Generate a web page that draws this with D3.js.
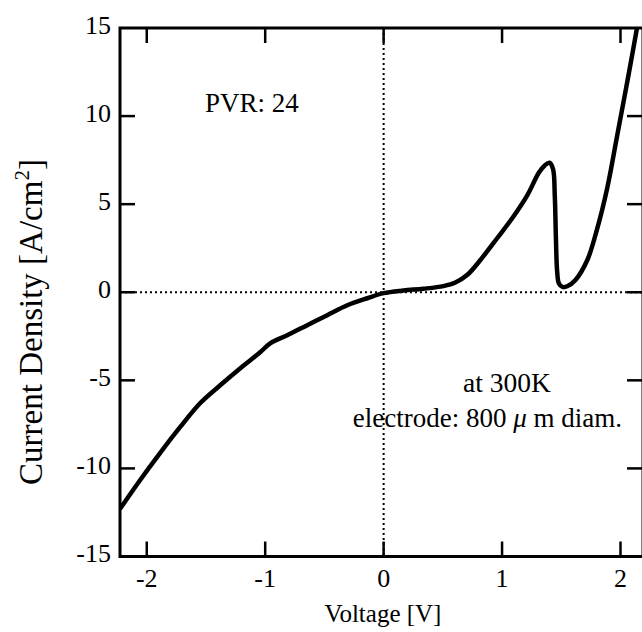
<!DOCTYPE html>
<html>
<head>
<meta charset="utf-8">
<script src="https://cdn.jsdelivr.net/npm/d3@7"></script>
<style>
  body { margin: 0; background: #fff; }
  text { font-family: "Liberation Serif", "Times New Roman", serif; fill: #000; }
</style>
</head>
<body>
<script>
// I-V curve
var voltage = [-2.226, -2.057, -1.888, -1.719, -1.55, -1.38, -1.21, -1.043, -0.958, -0.814,
  -0.645, -0.476, -0.307, -0.138, 0, 0.167, 0.336, 0.505, 0.606, 0.707,
  0.817, 0.96, 1.096, 1.215, 1.31, 1.36, 1.40, 1.43, 1.445, 1.455,
  1.465, 1.48, 1.51, 1.55, 1.62, 1.72, 1.80, 1.89, 1.97, 2.06, 2.15]
var current = [-12.3, -10.67, -9.13, -7.66, -6.3, -5.28, -4.31, -3.41, -2.9, -2.44,
  -1.87, -1.3, -0.74, -0.34, -0.05, 0.1, 0.2, 0.35, 0.55, 0.99,
  1.83, 3.08, 4.3, 5.53, 6.78, 7.2, 7.35, 7.0, 5.5, 3.0,
  1.2, 0.5, 0.3, 0.34, 0.7, 1.83, 3.53, 5.98, 8.82, 12.05, 15.4]

var xTicks = [-2, -1, 0, 1, 2]
var yTicks = [-15, -10, -5, 0, 5, 10, 15]
var yInner = [-10, -5, 0, 5, 10]

var width = 642, height = 632
var pLeft = 120, pRight = 643, pTop = 28, pBottom = 556.5

var svg = d3.select('body').append('svg')
  .attr('width', width)
  .attr('height', height)

var x = d3.scaleLinear().domain([-2.226, 2.19]).range([pLeft, pRight])
var y = d3.scaleLinear().domain([-15, 15]).range([pBottom, pTop])

svg.append('clipPath').attr('id', 'plot')
  .append('rect')
  .attr('x', pLeft).attr('y', pTop)
  .attr('width', pRight - pLeft).attr('height', pBottom - pTop)

// dotted zero lines
svg.append('line')
  .attr('x1', pLeft).attr('x2', pRight)
  .attr('y1', y(0)).attr('y2', y(0))
  .attr('stroke', '#000').attr('stroke-width', 2)
  .attr('stroke-dasharray', '2,3')
svg.append('line')
  .attr('x1', x(0)).attr('x2', x(0))
  .attr('y1', pTop).attr('y2', pBottom)
  .attr('stroke', '#000').attr('stroke-width', 2)
  .attr('stroke-dasharray', '2,3')

// the curve
var pts = voltage.map(function (v, i) { return [v, current[i]] })
var line = d3.line()
  .x(function (d) { return x(d[0]) })
  .y(function (d) { return y(d[1]) })
  .curve(d3.curveCatmullRom.alpha(0.5))

svg.append('path')
  .datum(pts)
  .attr('clip-path', 'url(#plot)')
  .attr('d', line)
  .attr('fill', 'none')
  .attr('stroke', '#000')
  .attr('stroke-width', 4.5)
  .attr('stroke-linejoin', 'round')

// frame
svg.append('rect')
  .attr('x', pLeft).attr('y', pTop)
  .attr('width', pRight - pLeft).attr('height', pBottom - pTop)
  .attr('fill', 'none').attr('stroke', '#000').attr('stroke-width', 3)

// inward ticks, all four sides
var tl = 15
var tickG = svg.append('g').attr('stroke', '#000').attr('stroke-width', 2.5)
xTicks.forEach(function (t) {
  tickG.append('line').attr('x1', x(t)).attr('x2', x(t)).attr('y1', pBottom).attr('y2', pBottom - tl)
  tickG.append('line').attr('x1', x(t)).attr('x2', x(t)).attr('y1', pTop).attr('y2', pTop + tl)
})
yInner.forEach(function (t) {
  tickG.append('line').attr('x1', pLeft).attr('x2', pLeft + tl).attr('y1', y(t)).attr('y2', y(t))
  tickG.append('line').attr('x1', pRight).attr('x2', pRight - tl - 1).attr('y1', y(t)).attr('y2', y(t))
})

// tick labels
svg.selectAll('.xl').data(xTicks).enter().append('text')
  .attr('x', function (d) { return x(d) })
  .attr('y', 587)
  .attr('text-anchor', 'middle')
  .style('font-size', '26px')
  .text(function (d) { return d })

svg.selectAll('.yl').data(yTicks).enter().append('text')
  .attr('x', 111)
  .attr('y', function (d) { return y(d) + 5.5 })
  .attr('text-anchor', 'end')
  .style('font-size', '26px')
  .text(function (d) { return d })

// axis titles
svg.append('text')
  .attr('x', 383).attr('y', 622)
  .attr('text-anchor', 'middle')
  .style('font-size', '25px')
  .text('Voltage [V]')

var yt = svg.append('text')
  .attr('transform', 'translate(42,322) rotate(-90)')
  .attr('text-anchor', 'middle')
  .style('font-size', '33px')
yt.append('tspan').text('Current Density [A/cm')
yt.append('tspan').attr('dy', -13).style('font-size', '21px').text('2')
yt.append('tspan').attr('dy', 13).text(']')

// notes
svg.append('text')
  .attr('x', 205).attr('y', 112)
  .style('font-size', '27px')
  .text('PVR: 24')

svg.append('text')
  .attr('x', 507).attr('y', 392)
  .attr('text-anchor', 'middle')
  .style('font-size', '27.5px')
  .text('at 300K')

var note = svg.append('text')
  .attr('x', 622).attr('y', 427)
  .attr('text-anchor', 'end')
  .style('font-size', '27px')
note.append('tspan').text('electrode: 800 ')
note.append('tspan').style('font-style', 'italic').text('μ')
note.append('tspan').text(' m diam.')
</script>
</body>
</html>
